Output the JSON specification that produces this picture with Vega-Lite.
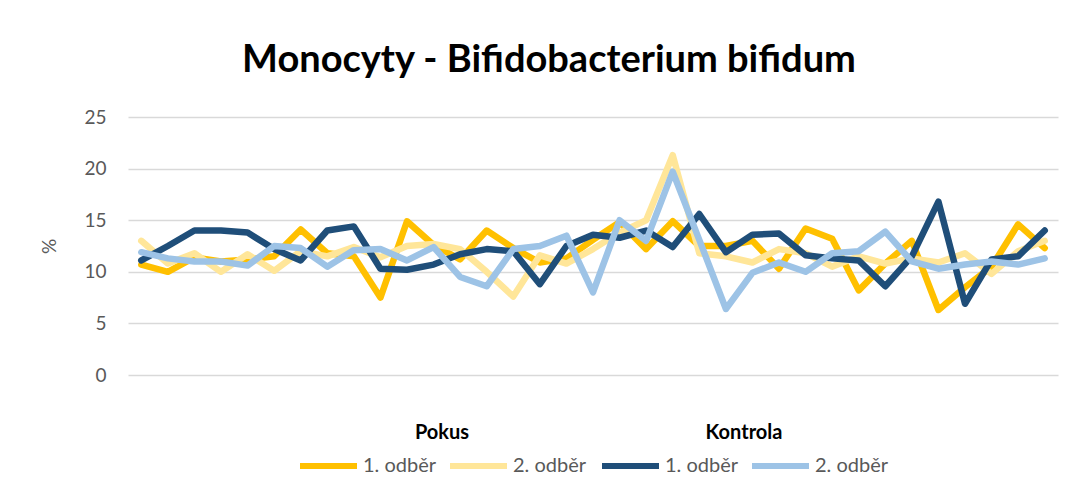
{
  "$schema": "https://vega.github.io/schema/vega-lite/v6.json",
  "width": 930,
  "height": 258,
  "autosize": {"type": "none"},
  "padding": {"left": 128, "top": 117, "right": 16, "bottom": 118},
  "background": "white",
  "title": {"text": "Monocyty - Bifidobacterium  bifidum", "font": "Lato", "fontSize": 38, "fontWeight": "bold", "color": "#000000", "anchor": "middle", "dx": -44, "offset": 28},
  "datasets": {
    "main": [
      {"i":0,"g":"Pokus","s":"1. odběr","v":10.7},{"i":1,"g":"Pokus","s":"1. odběr","v":10.0},{"i":2,"g":"Pokus","s":"1. odběr","v":11.4},{"i":3,"g":"Pokus","s":"1. odběr","v":11.0},{"i":4,"g":"Pokus","s":"1. odběr","v":11.2},{"i":5,"g":"Pokus","s":"1. odběr","v":11.5},{"i":6,"g":"Pokus","s":"1. odběr","v":14.1},{"i":7,"g":"Pokus","s":"1. odběr","v":11.8},{"i":8,"g":"Pokus","s":"1. odběr","v":11.5},{"i":9,"g":"Pokus","s":"1. odběr","v":7.5},{"i":10,"g":"Pokus","s":"1. odběr","v":14.9},{"i":11,"g":"Pokus","s":"1. odběr","v":12.6},{"i":12,"g":"Pokus","s":"1. odběr","v":11.2},{"i":13,"g":"Pokus","s":"1. odběr","v":14.0},{"i":14,"g":"Pokus","s":"1. odběr","v":12.3},{"i":15,"g":"Pokus","s":"1. odběr","v":10.9},{"i":16,"g":"Pokus","s":"1. odběr","v":11.3},{"i":17,"g":"Pokus","s":"1. odběr","v":13.1},{"i":18,"g":"Pokus","s":"1. odběr","v":14.8},{"i":19,"g":"Pokus","s":"1. odběr","v":12.2},{"i":20,"g":"Pokus","s":"1. odběr","v":14.9},{"i":21,"g":"Pokus","s":"1. odběr","v":12.5},{"i":22,"g":"Pokus","s":"1. odběr","v":12.5},{"i":23,"g":"Pokus","s":"1. odběr","v":13.0},{"i":24,"g":"Pokus","s":"1. odběr","v":10.3},{"i":25,"g":"Pokus","s":"1. odběr","v":14.2},{"i":26,"g":"Pokus","s":"1. odběr","v":13.2},{"i":27,"g":"Pokus","s":"1. odběr","v":8.2},{"i":28,"g":"Pokus","s":"1. odběr","v":10.8},{"i":29,"g":"Pokus","s":"1. odběr","v":13.0},{"i":30,"g":"Pokus","s":"1. odběr","v":6.3},{"i":31,"g":"Pokus","s":"1. odběr","v":8.5},{"i":32,"g":"Pokus","s":"1. odběr","v":10.5},{"i":33,"g":"Pokus","s":"1. odběr","v":14.6},{"i":34,"g":"Pokus","s":"1. odběr","v":12.3},
      {"i":0,"g":"Pokus","s":"2. odběr","v":13.0},{"i":1,"g":"Pokus","s":"2. odběr","v":10.8},{"i":2,"g":"Pokus","s":"2. odběr","v":11.8},{"i":3,"g":"Pokus","s":"2. odběr","v":10.0},{"i":4,"g":"Pokus","s":"2. odběr","v":11.7},{"i":5,"g":"Pokus","s":"2. odběr","v":10.1},{"i":6,"g":"Pokus","s":"2. odběr","v":12.0},{"i":7,"g":"Pokus","s":"2. odběr","v":11.5},{"i":8,"g":"Pokus","s":"2. odběr","v":12.4},{"i":9,"g":"Pokus","s":"2. odběr","v":11.4},{"i":10,"g":"Pokus","s":"2. odběr","v":12.5},{"i":11,"g":"Pokus","s":"2. odběr","v":12.7},{"i":12,"g":"Pokus","s":"2. odběr","v":12.2},{"i":13,"g":"Pokus","s":"2. odběr","v":10.0},{"i":14,"g":"Pokus","s":"2. odběr","v":7.6},{"i":15,"g":"Pokus","s":"2. odběr","v":11.6},{"i":16,"g":"Pokus","s":"2. odběr","v":10.8},{"i":17,"g":"Pokus","s":"2. odběr","v":12.2},{"i":18,"g":"Pokus","s":"2. odběr","v":13.8},{"i":19,"g":"Pokus","s":"2. odběr","v":15.0},{"i":20,"g":"Pokus","s":"2. odběr","v":21.3},{"i":21,"g":"Pokus","s":"2. odběr","v":11.8},{"i":22,"g":"Pokus","s":"2. odběr","v":11.5},{"i":23,"g":"Pokus","s":"2. odběr","v":10.9},{"i":24,"g":"Pokus","s":"2. odběr","v":12.2},{"i":25,"g":"Pokus","s":"2. odběr","v":11.8},{"i":26,"g":"Pokus","s":"2. odběr","v":10.5},{"i":27,"g":"Pokus","s":"2. odběr","v":11.5},{"i":28,"g":"Pokus","s":"2. odběr","v":10.8},{"i":29,"g":"Pokus","s":"2. odběr","v":11.3},{"i":30,"g":"Pokus","s":"2. odběr","v":10.9},{"i":31,"g":"Pokus","s":"2. odběr","v":11.8},{"i":32,"g":"Pokus","s":"2. odběr","v":9.8},{"i":33,"g":"Pokus","s":"2. odběr","v":12.0},{"i":34,"g":"Pokus","s":"2. odběr","v":13.0},
      {"i":0,"g":"Kontrola","s":"1. odběr","v":11.1},{"i":1,"g":"Kontrola","s":"1. odběr","v":12.5},{"i":2,"g":"Kontrola","s":"1. odběr","v":14.0},{"i":3,"g":"Kontrola","s":"1. odběr","v":14.0},{"i":4,"g":"Kontrola","s":"1. odběr","v":13.8},{"i":5,"g":"Kontrola","s":"1. odběr","v":12.2},{"i":6,"g":"Kontrola","s":"1. odběr","v":11.1},{"i":7,"g":"Kontrola","s":"1. odběr","v":14.0},{"i":8,"g":"Kontrola","s":"1. odběr","v":14.4},{"i":9,"g":"Kontrola","s":"1. odběr","v":10.3},{"i":10,"g":"Kontrola","s":"1. odběr","v":10.2},{"i":11,"g":"Kontrola","s":"1. odběr","v":10.7},{"i":12,"g":"Kontrola","s":"1. odběr","v":11.7},{"i":13,"g":"Kontrola","s":"1. odběr","v":12.2},{"i":14,"g":"Kontrola","s":"1. odběr","v":12.0},{"i":15,"g":"Kontrola","s":"1. odběr","v":8.8},{"i":16,"g":"Kontrola","s":"1. odběr","v":12.5},{"i":17,"g":"Kontrola","s":"1. odběr","v":13.6},{"i":18,"g":"Kontrola","s":"1. odběr","v":13.3},{"i":19,"g":"Kontrola","s":"1. odběr","v":14.0},{"i":20,"g":"Kontrola","s":"1. odběr","v":12.4},{"i":21,"g":"Kontrola","s":"1. odběr","v":15.6},{"i":22,"g":"Kontrola","s":"1. odběr","v":11.9},{"i":23,"g":"Kontrola","s":"1. odběr","v":13.6},{"i":24,"g":"Kontrola","s":"1. odběr","v":13.7},{"i":25,"g":"Kontrola","s":"1. odběr","v":11.6},{"i":26,"g":"Kontrola","s":"1. odběr","v":11.3},{"i":27,"g":"Kontrola","s":"1. odběr","v":11.1},{"i":28,"g":"Kontrola","s":"1. odběr","v":8.6},{"i":29,"g":"Kontrola","s":"1. odběr","v":11.5},{"i":30,"g":"Kontrola","s":"1. odběr","v":16.8},{"i":31,"g":"Kontrola","s":"1. odběr","v":6.9},{"i":32,"g":"Kontrola","s":"1. odběr","v":11.2},{"i":33,"g":"Kontrola","s":"1. odběr","v":11.5},{"i":34,"g":"Kontrola","s":"1. odběr","v":14.0},
      {"i":0,"g":"Kontrola","s":"2. odběr","v":11.9},{"i":1,"g":"Kontrola","s":"2. odběr","v":11.3},{"i":2,"g":"Kontrola","s":"2. odběr","v":11.0},{"i":3,"g":"Kontrola","s":"2. odběr","v":11.0},{"i":4,"g":"Kontrola","s":"2. odběr","v":10.6},{"i":5,"g":"Kontrola","s":"2. odběr","v":12.5},{"i":6,"g":"Kontrola","s":"2. odběr","v":12.3},{"i":7,"g":"Kontrola","s":"2. odběr","v":10.5},{"i":8,"g":"Kontrola","s":"2. odběr","v":12.1},{"i":9,"g":"Kontrola","s":"2. odběr","v":12.2},{"i":10,"g":"Kontrola","s":"2. odběr","v":11.1},{"i":11,"g":"Kontrola","s":"2. odběr","v":12.4},{"i":12,"g":"Kontrola","s":"2. odběr","v":9.5},{"i":13,"g":"Kontrola","s":"2. odběr","v":8.6},{"i":14,"g":"Kontrola","s":"2. odběr","v":12.2},{"i":15,"g":"Kontrola","s":"2. odběr","v":12.5},{"i":16,"g":"Kontrola","s":"2. odběr","v":13.5},{"i":17,"g":"Kontrola","s":"2. odběr","v":8.0},{"i":18,"g":"Kontrola","s":"2. odběr","v":15.0},{"i":19,"g":"Kontrola","s":"2. odběr","v":13.0},{"i":20,"g":"Kontrola","s":"2. odběr","v":19.7},{"i":21,"g":"Kontrola","s":"2. odběr","v":13.1},{"i":22,"g":"Kontrola","s":"2. odběr","v":6.4},{"i":23,"g":"Kontrola","s":"2. odběr","v":9.9},{"i":24,"g":"Kontrola","s":"2. odběr","v":10.9},{"i":25,"g":"Kontrola","s":"2. odběr","v":10.0},{"i":26,"g":"Kontrola","s":"2. odběr","v":11.8},{"i":27,"g":"Kontrola","s":"2. odběr","v":12.0},{"i":28,"g":"Kontrola","s":"2. odběr","v":13.9},{"i":29,"g":"Kontrola","s":"2. odběr","v":11.0},{"i":30,"g":"Kontrola","s":"2. odběr","v":10.3},{"i":31,"g":"Kontrola","s":"2. odběr","v":10.7},{"i":32,"g":"Kontrola","s":"2. odběr","v":11.0},{"i":33,"g":"Kontrola","s":"2. odběr","v":10.7},{"i":34,"g":"Kontrola","s":"2. odběr","v":11.3}
    ]
  },
  "data": {"name": "main"},
  "encoding": {
    "x": {"field": "i", "type": "ordinal", "scale": {"type": "point", "padding": 0.5}, "axis": null},
    "y": {
      "field": "v", "type": "quantitative",
      "scale": {"domain": [0, 25], "nice": false, "zero": true},
      "axis": {"values": [0, 5, 10, 15, 20, 25], "grid": true, "gridColor": "#d9d9d9", "gridWidth": 1.5, "domain": false, "ticks": false, "labelFont": "Lato", "labelFontSize": 19, "labelColor": "#595959", "labelPadding": 22, "title": "%", "titleFont": "Lato", "titleFontSize": 19, "titleColor": "#595959", "titleFontWeight": "normal", "titlePadding": 24}
    }
  },
  "layer": [
    {
      "transform": [{"filter": "datum.g === 'Pokus'"}],
      "mark": {"type": "line", "strokeWidth": 6.5, "strokeJoin": "round", "strokeCap": "round"},
      "encoding": {
        "color": {"field": "s", "type": "nominal", "scale": {"domain": ["1. odběr", "2. odběr"], "range": ["#FFC000", "#FFE699"]}, "legend": {"title": "Pokus"}}
      }
    },
    {
      "transform": [{"filter": "datum.g === 'Kontrola'"}],
      "mark": {"type": "line", "strokeWidth": 6.5, "strokeJoin": "round", "strokeCap": "round"},
      "encoding": {
        "color": {"field": "s", "type": "nominal", "scale": {"domain": ["1. odběr", "2. odběr"], "range": ["#1F4E79", "#9DC3E6"]}, "legend": {"title": "Kontrola"}}
      }
    }
  ],
  "resolve": {"scale": {"color": "independent"}},
  "config": {
    "view": {"stroke": null},
    "legend": {
      "orient": "bottom",
      "direction": "horizontal",
      "offset": 48,
      "layout": {"bottom": {"anchor": "middle", "direction": "horizontal", "margin": 12}},
      "symbolType": "stroke",
      "symbolSize": 3249,
      "symbolStrokeWidth": 6,
      "clipHeight": 22,
      "labelFont": "Lato",
      "labelFontSize": 20,
      "labelColor": "#595959",
      "labelOffset": 3,
      "titleFont": "Lato",
      "titleFontSize": 20,
      "titleFontWeight": "bold",
      "titleColor": "#000000",
      "titleAnchor": "middle",
      "titlePadding": 12,
      "columnPadding": 10
    }
  }
}
